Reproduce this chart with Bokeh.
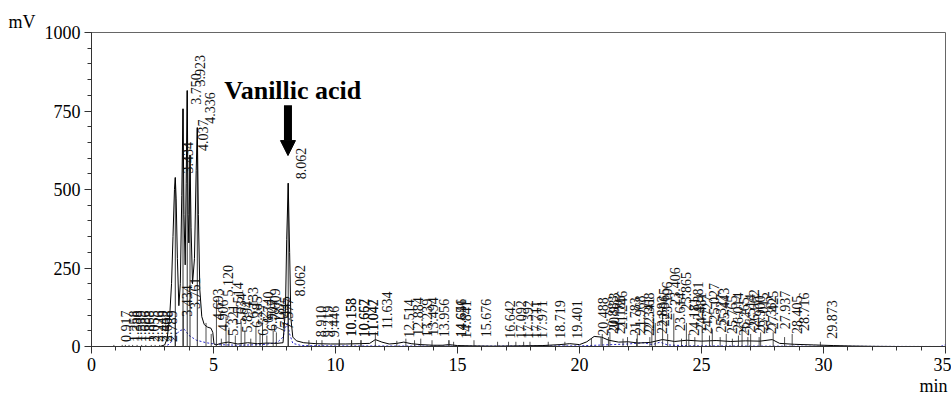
import math
from bokeh.plotting import figure
from bokeh.models import FixedTicker, Arrow, NormalHead, ColumnDataSource, Title
from bokeh.core.properties import value
from bokeh.embed import file_html
from bokeh.resources import INLINE

# ---- data ----
# black detector trace (time in min, signal in mV)
black_trace = [
    (0.0, 0), (2.80, 0), (3.00, 5), (3.10, 25), (3.20, 90), (3.28, 200), (3.34, 350),
    (3.40, 500), (3.434, 538), (3.47, 470), (3.52, 280), (3.58, 130), (3.64, 200),
    (3.70, 480), (3.750, 757), (3.79, 420), (3.84, 260), (3.88, 520), (3.923, 815),
    (3.96, 420), (3.99, 330), (4.037, 610), (4.08, 380), (4.14, 200), (4.22, 280),
    (4.29, 560), (4.336, 697), (4.38, 420), (4.44, 180), (4.52, 95), (4.62, 70),
    (4.75, 62), (4.90, 58), (4.97, 45), (5.02, 8), (5.10, 5), (5.30, 10), (5.60, 14),
    (6.00, 8), (6.40, 12), (6.80, 9), (7.20, 11), (7.60, 10), (7.85, 12), (7.95, 120),
    (8.00, 340), (8.062, 520), (8.12, 300), (8.17, 90), (8.25, 30), (8.40, 18),
    (8.70, 12), (9.20, 9), (9.80, 8), (10.40, 8), (11.00, 9), (11.40, 10), (11.634, 22),
    (11.90, 14), (12.20, 8), (12.514, 10), (12.80, 14), (13.10, 9), (13.50, 6),
    (14.00, 4), (14.40, 4), (14.646, 6), (15.00, 3), (15.60, 2), (16.50, 1), (17.50, 2),
    (18.50, 3), (19.20, 6), (19.60, 9), (20.00, 6), (20.30, 15), (20.60, 32), (20.90, 30),
    (21.20, 20), (21.60, 14), (22.00, 15), (22.40, 11), (22.90, 13), (23.40, 22),
    (23.90, 16), (24.40, 20), (25.00, 17), (25.60, 19), (26.20, 16), (26.80, 18),
    (27.40, 17), (27.90, 22), (28.20, 10), (28.80, 7), (29.60, 5), (30.40, 3),
    (31.20, 1.5), (32.00, 0.5), (33.00, 0), (35.00, 0),
]

# blue dotted trace
blue_trace = [
    (0.0, 0), (3.0, 0), (3.2, 8), (3.4, 30), (3.6, 50), (3.8, 55), (4.0, 35), (4.3, 20),
    (4.7, 12), (5.2, 6), (6.0, 4), (7.0, 6), (7.6, 12), (7.85, 30), (7.95, 60), (8.03, 75),
    (8.12, 40), (8.25, 10), (8.6, 3), (10.0, 2), (15.0, 1), (20.0, 2), (21.0, 5), (22.0, 8),
    (22.6, 12), (23.0, 6), (23.3, 14), (23.6, 5), (24.5, 2), (28.0, 1), (34.8, 0), (35.0, 6),
]

# labelled main peaks (retention time, peak height mV)
top_rt = [3.434, 3.750, 3.923, 4.037, 4.336, 8.062]
top_mv = [538, 757, 815, 610, 697, 520]

# small peak labels (retention time, height where label starts mV)
low_peaks = [
    (0.917, 5), (1.258, 5), (1.388, 5), (1.539, 5), (1.686, 5), (1.868, 5), (2.055, 5),
    (2.226, 5), (2.449, 5), (2.608, 5), (2.789, 5),
    (3.434, 85), (3.761, 110),
    (4.693, 75), (4.906, 40), (5.120, 150), (5.321, 25), (5.514, 95), (5.634, 60),
    (5.894, 35), (6.133, 80), (6.285, 50), (6.527, 25), (6.740, 65), (6.907, 40),
    (7.009, 75), (7.187, 35), (7.445, 50), (7.577, 45), (8.062, 150),
    (8.910, 20), (9.219, 20), (9.446, 20), (10.153, 22), (10.158, 22), (10.657, 20),
    (10.662, 20), (11.042, 20), (11.047, 20), (11.634, 45),
    (12.514, 18), (12.884, 25), (13.239, 20), (13.494, 25), (13.956, 20), (14.646, 20),
    (14.651, 20), (14.841, 15), (15.676, 20),
    (16.642, 15), (17.092, 15), (17.392, 15), (17.711, 15), (17.971, 15), (18.719, 15),
    (19.401, 15),
    (20.488, 25), (20.883, 30), (20.933, 40), (21.186, 30), (21.246, 45), (21.783, 25),
    (21.968, 30), (22.341, 25), (22.368, 40), (22.883, 30), (22.965, 55), (23.106, 75),
    (23.406, 120), (23.614, 40), (23.865, 105),
    (24.181, 25), (24.381, 75), (24.481, 40), (24.727, 30), (25.027, 70), (25.327, 35),
    (25.443, 55), (25.765, 30), (26.014, 40), (26.265, 25), (26.514, 35), (26.662, 50),
    (26.900, 30), (27.015, 40), (27.362, 30), (27.425, 45),
    (27.937, 45), (28.405, 30), (28.716, 40), (29.873, 15),
]

x_major = [0, 5, 10, 15, 20, 25, 30, 35]
y_major = [0, 250, 500, 750, 1000]
compound = "Vanillic acid"
compound_rt = 8.062
compound_label_pos = (8.25, 815)

SERIF = "Liberation Serif"

p = figure(width=951, height=396, x_range=(0, 35), y_range=(0, 1000),
           output_backend="svg", toolbar_location=None,
           min_border_left=91, min_border_right=6, min_border_top=32, min_border_bottom=50)
p.grid.visible = False
p.outline_line_color = "#666666"
p.outline_line_width = 1
p.background_fill_color = "white"
p.border_fill_color = "white"

# unit labels as titles
p.title.text = "mV"
p.title.align = "left"
p.title.offset = -83
p.title.standoff = 2
p.title.text_font = SERIF
p.title.text_font_size = "18px"
p.title.text_font_style = "normal"
p.title.text_color = "black"

p.add_layout(Title(text="min", align="right", offset=-2, standoff=0, text_font=SERIF,
                   text_font_size="18px", text_font_style="normal", text_color="black"),
             "below")

for ax in (p.xaxis[0], p.yaxis[0]):
    ax.axis_line_color = "#333333"
    ax.major_tick_line_color = "#333333"
    ax.minor_tick_line_color = "#333333"
    ax.major_tick_in = 0
    ax.major_tick_out = 7
    ax.minor_tick_in = 0
    ax.minor_tick_out = 4
    ax.major_label_text_font = SERIF
    ax.major_label_text_font_size = "18px"
    ax.major_label_text_color = "black"

p.xaxis.ticker = FixedTicker(ticks=x_major, minor_ticks=list(range(0, 36)))
p.yaxis.ticker = FixedTicker(ticks=y_major, minor_ticks=list(range(0, 1001, 50)))
p.xaxis.major_label_standoff = 4
p.yaxis.major_label_standoff = 4

bt = [a for a, b in black_trace]
bv = [b for a, b in black_trace]
ut = [a for a, b in blue_trace]
uv = [b for a, b in blue_trace]

p.line(ut, uv, line_color="#2a2acc", line_width=1, line_dash="2 2")
p.line(bt, bv, line_color="black", line_width=1)

# drop lines and labels for main peaks
top_src = ColumnDataSource(dict(x=top_rt, y=top_mv, z=[0] * len(top_rt),
                                t=["%.3f" % r for r in top_rt]))
p.segment(x0="x", y0="z", x1="x", y1="y", source=top_src, line_color="black", line_width=0.8)
p.text(x="x", y="y", text="t", source=top_src, angle=math.pi / 2,
       text_align="left", text_baseline="top", x_offset=8, y_offset=-4,
       text_font=value(SERIF), text_font_size="14px", text_color="#111111")

lx = [a for a, b in low_peaks]
ly = [b for a, b in low_peaks]
low_src = ColumnDataSource(dict(x=lx, y=ly, z=[0] * len(lx), t=["%.3f" % r for r in lx]))
p.segment(x0="x", y0="z", x1="x", y1="y", source=low_src, line_color="#222222", line_width=0.8)
p.text(x="x", y="y", text="t", source=low_src, angle=math.pi / 2,
       text_align="left", text_baseline="top", x_offset=7, y_offset=-3,
       text_font=value(SERIF), text_font_size="14px", text_color="#111111")

# compound annotation
p.text(x=[compound_label_pos[0]], y=[compound_label_pos[1]], text=[compound],
       text_font=value(SERIF), text_font_style="bold", text_font_size="26px",
       text_align="center", text_baseline="alphabetic", text_color="black")
p.add_layout(Arrow(x_start=compound_rt - 0.01, y_start=768, x_end=compound_rt - 0.01, y_end=608,
                   line_width=8, line_color="black",
                   end=NormalHead(size=15, fill_color="black", line_color="black", line_width=1)))

open("out.html", "w").write(file_html(p, INLINE))
